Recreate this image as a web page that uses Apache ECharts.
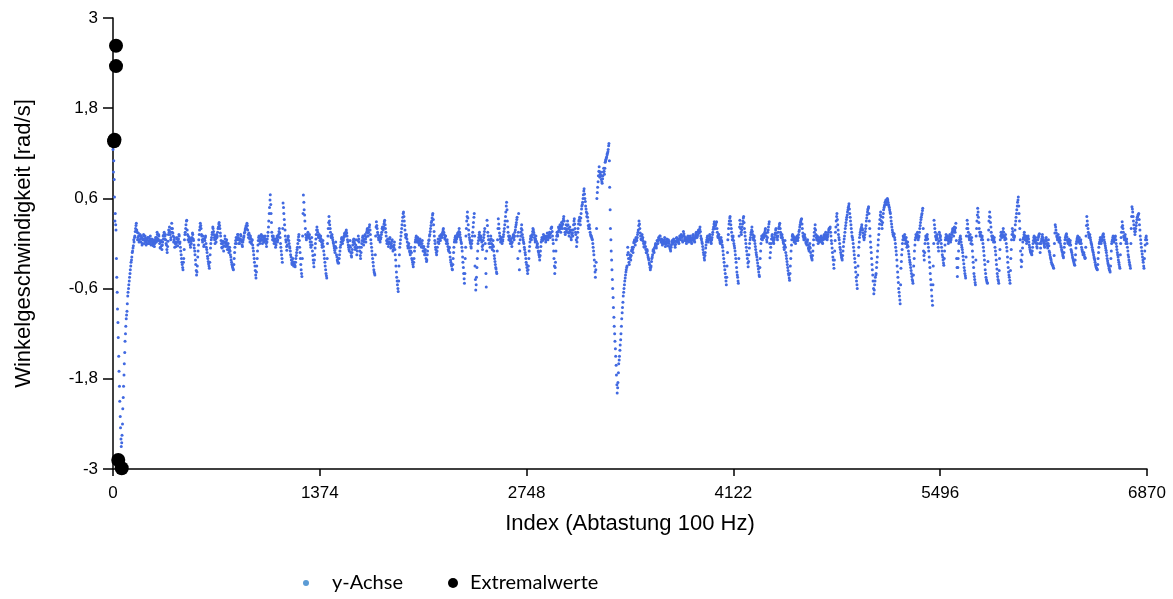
<!DOCTYPE html>
<html>
<head>
<meta charset="utf-8">
<script src="https://cdn.jsdelivr.net/npm/echarts@6/dist/echarts.min.js"></script>
<style>
html,body{margin:0;padding:0;background:#fff;}
#chart{width:1173px;height:599px;}
</style>
</head>
<body>
<div id="chart"></div>
<script>
// sampling step of the blue series (index units); s-arrays at index k*STEP, t-arrays at k*STEP+OFF
var STEP = 5, OFF = 3;
var s00 = [1.25,1.1,0.62,0.4,0.18,-0.45,-0.87,-1.25,-1.7,-2.1,
-2.45,-2.7,-2.55,-2.2,-1.9,-1.6,-1.3,-1.1,-0.95,-0.8,
-0.65,-0.55,-0.45,-0.35,-0.25,-0.18,-0.1,-0.03,0.02,0.1,
0.2,0.27,0.15,0.08,0.1,0.05,0.12,0.02,0.08,0.0,
0.06,0.1,0.04,0.07,-0.02,0.05,0.08,0.0,0.03,0.06,
0.02,0.04,-0.01,0.02,0.0,-0.04,0.02,0.05,0.08,0.12,
0.06,0.1,0.0,-0.05,0.04,-0.08,0.02,0.06,0.15,0.1,
0.05,-0.02,-0.12,0.03,0.18,0.22,0.12,0.08,0.27,0.2,
0.1,0.05,-0.05,0.02,0.0,0.08,-0.03,0.06,0.1,0.02,
-0.1,-0.2,-0.28,-0.35,-0.2,0.05,0.15,0.25,0.31,0.12];
var s01 = [0.1,0.02,0.06,-0.05,0.0,0.08,0.12,0.04,-0.06,-0.15,
-0.28,-0.42,-0.3,-0.1,0.05,0.18,0.27,0.2,0.1,0.02,
0.06,-0.02,0.04,0.1,-0.05,-0.12,-0.2,-0.27,-0.33,-0.15,
0.0,0.08,0.15,0.2,0.12,0.05,0.1,0.02,0.08,0.15,
0.22,0.28,0.2,0.1,0.0,-0.06,0.03,-0.1,0.02,0.06,
-0.04,0.05,-0.08,0.0,-0.12,-0.05,-0.15,-0.22,-0.28,-0.32,
-0.35,-0.2,-0.05,0.04,0.0,0.08,0.12,0.05,0.0,0.06,
0.1,0.02,-0.04,0.05,0.1,0.15,0.2,0.24,0.27,0.18,
0.08,0.12,0.02,0.07,0.0,0.05,-0.06,-0.15,-0.25,-0.36,
-0.46,-0.3,-0.1,0.04,0.1,0.0,0.06,0.12,0.05,0.1];
var s02 = [0.08,0.02,0.1,0.04,-0.04,0.06,0.15,0.3,0.48,0.65,
0.4,0.15,0.05,0.1,0.0,0.06,-0.05,0.03,0.1,0.05,
0.12,0.2,0.08,-0.05,-0.15,-0.25,0.54,0.4,0.25,0.1,
0.02,-0.09,0.05,0.1,0.0,-0.06,-0.15,-0.22,-0.28,-0.2,
-0.3,-0.25,-0.31,-0.2,-0.12,-0.05,0.05,0.12,-0.05,-0.2,
-0.35,-0.44,0.1,0.645,0.45,0.3,0.12,0.05,0.1,0.15,
0.08,0.12,0.02,-0.05,0.08,-0.1,-0.22,-0.31,-0.15,0.0,
0.12,0.22,0.15,0.08,0.12,0.04,0.1,0.02,-0.05,0.04,
-0.1,-0.2,-0.3,-0.4,-0.46,0.0,0.2,0.36,0.25,0.15,
0.08,0.12,0.05,0.0,-0.06,-0.12,0.02,-0.15,-0.22,-0.26];
var s03 = [-0.26,-0.15,-0.05,0.02,0.08,0.0,0.05,0.1,0.14,0.12,
0.18,0.1,0.02,-0.05,-0.1,0.04,-0.12,-0.18,-0.08,0.02,
0.06,0.0,-0.08,0.05,-0.15,-0.05,0.1,0.02,-0.1,-0.2,
-0.05,0.04,0.1,-0.02,0.06,0.12,0.02,0.15,0.2,0.1,
0.18,0.25,0.12,0.0,-0.1,-0.2,-0.3,-0.38,-0.42,0.1,
0.29,0.2,0.12,0.05,0.1,0.02,0.08,0.15,0.22,0.18,
0.26,0.31,0.2,0.1,0.0,0.06,-0.04,0.02,0.08,-0.06,
0.0,0.05,-0.1,-0.05,0.02,-0.15,-0.3,-0.45,-0.55,-0.64,
-0.3,-0.05,0.05,0.15,0.25,0.35,0.42,0.3,0.18,0.08,
0.12,0.02,-0.06,0.0,-0.1,-0.15,-0.05,-0.2,-0.25,-0.31];
var s04 = [-0.2,-0.05,0.05,0.1,0.02,0.08,0.05,-0.02,0.06,0.0,
-0.05,0.04,-0.1,-0.04,-0.15,-0.08,-0.2,-0.22,-0.1,0.0,
0.05,0.12,0.2,0.28,0.34,0.4,0.25,0.1,0.0,-0.08,
-0.15,-0.05,0.06,0.0,0.1,0.04,0.12,0.08,0.15,0.2,
0.12,0.06,0.1,0.0,0.05,-0.04,-0.1,-0.05,-0.18,-0.25,
-0.3,-0.35,-0.2,-0.05,0.05,0.1,0.02,0.08,0.14,0.1,
0.2,0.12,0.05,0.0,-0.1,-0.25,-0.4,-0.53,-0.2,0.1,
0.3,0.42,0.25,0.12,0.05,0.0,-0.06,0.04,0.15,0.28,
0.4,-0.3,-0.62,-0.45,-0.2,0.0,0.08,0.15,0.05,0.1,
0.02,-0.08,0.04,0.12,0.2,-0.2,-0.58,0.31,0.15,0.05];
var s05 = [0.05,-0.05,0.1,0.0,-0.08,0.04,-0.1,-0.2,-0.28,-0.34,
-0.4,0.05,0.33,0.2,0.1,0.02,0.08,0.0,0.05,0.12,
0.2,0.3,0.42,0.55,0.3,0.15,0.05,0.1,0.0,0.06,
-0.04,0.08,0.12,0.05,0.15,0.22,0.28,0.35,-0.2,0.4,
-0.35,0.05,0.15,0.25,0.12,0.05,0.0,-0.08,-0.15,-0.25,
-0.32,-0.4,-0.3,-0.1,0.02,0.1,0.05,0.12,0.2,0.15,
0.08,0.02,0.1,-0.05,0.0,-0.1,-0.15,-0.22,-0.1,0.02,
0.08,0.04,0.12,0.06,0.1,0.02,0.08,0.14,0.05,0.1,
0.15,0.08,0.2,0.22,0.1,0.0,-0.2,-0.4,-0.25,0.05,
0.15,0.1,0.22,0.18,0.25,0.15,0.28,0.2,0.3,0.36];
var s06 = [0.2,0.12,0.25,0.15,0.3,0.2,0.1,0.22,0.15,0.05,
0.18,0.1,0.25,0.33,0.2,0.12,-0.04,0.08,0.2,0.3,
0.35,0.25,0.4,0.5,0.55,0.65,0.73,0.6,0.5,0.42,
0.4,0.3,0.2,0.25,0.15,0.1,0.08,0.05,-0.05,-0.15,
-0.3,-0.45,-0.25,0.6,0.75,0.9,1.02,0.88,0.95,0.85,
0.8,0.9,1.0,0.92,1.08,1.12,1.15,1.2,1.25,1.33,
0.75,0.2,-0.1,-0.35,-0.6,-0.85,-1.1,-1.3,-1.5,-1.75,
-1.99,-1.85,-1.6,-1.5,-1.35,-1.2,-1.0,-0.85,-0.7,-0.6,
-0.5,-0.42,-0.35,-0.3,-0.05,-0.2,-0.28,-0.15,-0.22,-0.1,
-0.05,-0.12,0.01,0.05,-0.02,0.08,0.04,0.12,0.18,0.3];
var s07 = [0.2,0.1,0.05,0.12,0.08,0.0,-0.05,0.02,-0.08,-0.12,
-0.1,-0.18,-0.22,-0.28,-0.35,-0.3,-0.2,-0.15,-0.08,-0.12,
-0.05,0.0,-0.06,0.04,0.0,0.08,0.05,0.1,0.02,0.06,
-0.02,0.04,0.0,0.08,-0.04,0.02,0.06,-0.03,0.05,0.0,
-0.06,-0.1,-0.02,0.04,0.0,0.06,0.02,-0.05,0.03,0.08,
0.02,0.06,0.0,0.1,0.05,0.12,0.08,0.02,0.16,0.1,
0.04,0.08,0.0,0.05,0.1,0.02,0.06,0.1,0.04,0.0,
0.08,0.12,0.05,0.02,0.1,0.15,0.08,0.12,0.18,0.14,
0.22,0.1,0.05,0.0,-0.08,-0.15,-0.22,-0.12,-0.02,0.05,
0.1,0.02,0.06,0.12,0.05,0.0,0.08,0.15,0.22,0.29];
var s08 = [0.2,0.25,0.29,0.15,0.08,0.12,0.05,0.0,0.08,0.02,
-0.05,-0.15,-0.25,-0.35,-0.45,-0.55,-0.3,0.05,0.2,0.3,
0.36,0.25,0.15,0.05,0.1,0.0,-0.06,-0.15,-0.25,-0.38,
-0.45,-0.53,0.1,0.31,0.2,0.12,0.22,0.3,0.36,0.2,
0.1,0.0,-0.1,-0.2,-0.31,-0.15,0.0,0.08,0.15,0.22,
0.12,0.05,0.1,0.0,-0.08,-0.15,-0.22,-0.3,-0.38,-0.44,
-0.2,0.0,0.1,0.05,0.12,0.08,0.15,0.2,0.1,0.02,
0.15,0.22,0.29,-0.19,-0.05,0.06,0.12,0.05,0.0,0.08,
0.14,0.2,0.1,0.05,0.15,0.22,0.27,0.15,0.08,0.12,
0.05,0.0,-0.08,0.04,-0.12,-0.2,-0.28,-0.36,-0.42,-0.49];
var s09 = [-0.3,-0.1,0.05,0.12,0.1,0.02,0.08,0.0,0.05,0.1,
0.04,0.12,0.18,0.25,0.3,0.33,0.2,0.1,0.05,0.12,
0.06,0.0,-0.02,0.05,-0.06,-0.1,0.0,-0.12,-0.18,-0.22,
-0.1,0.05,0.15,0.25,0.12,0.05,0.1,0.0,0.08,0.02,
0.05,0.1,0.04,0.0,0.08,0.12,0.06,0.15,0.1,0.05,
0.12,0.18,0.2,0.22,0.1,0.0,-0.12,-0.22,-0.33,-0.1,
0.15,0.3,0.4,0.25,0.12,0.05,-0.05,-0.12,-0.18,-0.22,
-0.1,0.02,0.1,0.2,0.28,0.35,0.42,0.48,0.53,0.4,
0.3,0.2,0.1,0.05,-0.05,-0.15,-0.25,-0.38,-0.5,-0.6,
-0.3,-0.05,0.08,0.15,0.2,0.25,0.18,0.1,0.05,0.12];
var s10 = [0.2,0.3,0.38,0.45,0.49,0.3,0.1,-0.05,-0.2,-0.35,
-0.5,-0.67,-0.55,-0.45,-0.4,-0.25,-0.1,0.05,0.2,0.32,
0.42,0.3,0.2,0.35,0.45,0.5,0.55,0.58,0.52,0.6,
0.55,0.5,0.45,0.4,0.3,0.22,0.15,0.1,0.13,0.05,
-0.05,-0.15,-0.3,-0.45,-0.6,-0.7,-0.8,-0.33,-0.15,0.0,
0.1,0.05,0.12,0.0,0.08,-0.05,0.02,-0.1,-0.18,-0.25,
-0.32,-0.4,-0.48,-0.53,-0.3,-0.1,0.05,0.12,0.08,0.15,
0.05,0.1,0.2,0.28,0.35,0.4,0.47,-0.1,-0.22,0.0,
0.1,0.05,0.12,0.0,-0.1,-0.25,-0.4,-0.55,-0.7,-0.82,
-0.3,0.31,0.2,0.1,0.05,0.12,0.0,-0.1,0.15,0.08];
var s11 = [0.05,-0.05,-0.15,-0.22,-0.29,-0.1,0.05,0.12,0.05,0.1,
0.0,0.06,0.12,0.02,0.08,0.15,0.2,0.1,0.22,0.15,
0.27,-0.2,-0.44,-0.2,0.0,0.05,0.1,0.02,-0.05,-0.12,
-0.22,-0.32,-0.4,-0.46,0.1,0.31,0.2,0.1,0.05,0.12,
0.0,0.08,-0.1,-0.25,-0.4,-0.48,-0.55,0.1,0.3,0.47,
0.35,0.2,0.1,0.15,0.05,0.1,0.0,-0.1,-0.22,-0.35,
-0.45,-0.5,-0.53,0.05,0.3,0.42,0.28,0.15,0.05,0.1,
0.02,0.08,-0.05,-0.15,-0.28,-0.4,-0.48,-0.53,-0.2,0.05,
0.15,0.08,0.12,0.2,0.1,0.05,0.12,0.0,-0.1,-0.25,
-0.38,-0.45,-0.53,-0.2,0.05,0.2,0.12,0.05,0.1,0.25];
var s12 = [0.35,0.45,0.55,0.62,0.4,0.2,-0.1,-0.31,-0.15,0.02,
0.08,0.15,0.05,0.1,0.0,0.06,0.1,0.02,-0.05,-0.1,
-0.12,-0.15,-0.05,0.04,0.1,0.02,0.08,0.0,-0.06,0.05,
0.1,0.13,-0.12,0.0,0.06,0.12,0.05,0.0,-0.05,0.04,
0.08,0.0,-0.06,0.05,-0.1,-0.15,-0.2,-0.25,-0.28,-0.3,
-0.33,0.0,0.25,0.18,0.1,0.05,0.12,0.02,0.08,0.0,
-0.05,-0.1,-0.15,-0.19,-0.05,0.05,0.1,0.13,0.05,0.0,
0.06,-0.02,0.04,-0.08,-0.12,-0.18,-0.22,-0.26,-0.29,-0.15,
0.0,0.06,0.1,0.02,0.08,0.0,0.05,-0.05,-0.1,-0.15,
-0.12,-0.18,-0.19,0.1,0.36,0.25,0.15,0.08,0.12,0.05];
var s13 = [0.0,-0.05,-0.1,-0.15,-0.2,-0.25,-0.3,-0.33,-0.35,-0.2,
-0.05,0.02,0.08,0.0,0.05,0.1,0.13,0.05,0.0,-0.06,
-0.12,-0.2,-0.26,-0.3,-0.35,-0.38,-0.2,0.0,0.05,0.1,
0.02,0.08,0.1,0.0,-0.08,-0.15,-0.22,-0.28,-0.33,0.0,
0.15,0.29,0.2,0.1,0.05,0.12,0.0,0.06,-0.05,-0.15,
-0.22,-0.28,-0.33,0.2,0.49,0.42,0.3,0.2,0.12,0.2,
0.28,0.35,0.38,0.4,0.25,0.1,0.0,-0.1,-0.18,-0.25,
-0.33,-0.1,0.05,0.1,0.0];

var t00 = [0.95,0.85,0.3,0.25,-0.2,-0.65,-1.05,-1.5,-1.9,-2.3,
-2.6,-2.65,-2.4,-2.05,-1.75,-1.45,-1.2,-1.0,-0.9,-0.7,
-0.6,-0.5,-0.4,-0.3,-0.22,-0.12,-0.06,0.05,0.08,0.16,
0.24,0.18,0.05,0.14,0.02,0.1,0.06,0.1,-0.02,0.05,
0.12,0.0,0.1,0.02,0.06,0.0,0.04,0.08,0.0,0.1,
-0.02,0.06,0.03,-0.03,0.05,0.0,0.08,0.02,0.15,0.04,
0.12,0.04,-0.06,0.02,-0.03,-0.02,0.1,0.12,0.06,0.12,
0.0,-0.08,-0.04,0.12,0.15,0.16,0.05,0.2,0.15,0.14,
0.02,0.08,0.0,-0.04,0.06,0.02,0.03,0.12,0.0,-0.05,
-0.15,-0.25,-0.32,-0.25,-0.08,0.12,0.2,0.3,0.18,0.05];
var t01 = [0.05,0.08,-0.02,0.03,0.06,0.14,0.06,-0.02,-0.1,-0.22,
-0.36,-0.38,-0.18,-0.02,0.12,0.22,0.24,0.12,0.05,0.1,
-0.04,0.06,0.08,0.0,-0.08,-0.17,-0.24,-0.3,-0.25,-0.06,
0.05,0.12,0.22,0.16,0.08,0.0,0.06,0.12,0.1,0.2,
0.26,0.24,0.14,0.04,-0.05,0.0,-0.04,-0.03,0.1,0.0,
0.02,-0.02,-0.04,-0.08,-0.08,-0.1,-0.18,-0.25,-0.3,-0.34,
-0.28,-0.12,0.0,0.08,0.05,0.12,0.08,0.0,0.04,0.12,
0.05,-0.02,0.02,0.08,0.14,0.18,0.22,0.2,0.24,0.12,
0.14,0.06,0.1,0.02,0.04,-0.02,-0.1,-0.2,-0.3,-0.42,
-0.38,-0.2,-0.02,0.08,0.04,0.03,0.1,0.08,0.0,0.04];
var t02 = [0.04,0.07,0.05,0.0,0.02,0.1,0.22,0.4,0.58,0.52,
0.28,0.1,0.08,0.04,0.03,0.0,-0.02,0.07,0.02,0.09,
0.16,0.14,0.0,-0.1,-0.2,0.2,0.48,0.32,0.18,0.05,
-0.04,-0.02,0.08,0.04,-0.04,-0.1,-0.18,-0.26,-0.24,-0.26,
-0.28,-0.29,-0.25,-0.16,-0.08,0.0,0.09,0.04,-0.12,-0.28,
-0.4,-0.2,0.4,0.55,0.38,0.2,0.08,0.08,0.12,0.1,
0.1,0.06,-0.02,0.02,-0.02,-0.16,-0.26,-0.22,-0.06,0.06,
0.18,0.18,0.11,0.1,0.08,0.07,0.06,-0.02,0.0,-0.04,
-0.15,-0.25,-0.35,-0.43,-0.2,0.1,0.28,0.3,0.2,0.1,
0.1,0.08,0.02,-0.03,-0.09,-0.04,-0.06,-0.18,-0.24,-0.2];
var t03 = [-0.2,-0.1,-0.02,0.06,0.03,0.04,0.08,0.13,0.1,0.16,
0.14,0.05,-0.02,-0.08,-0.03,-0.05,-0.16,-0.12,-0.02,0.05,
0.02,-0.05,-0.02,-0.06,-0.1,0.04,0.06,-0.05,-0.16,-0.12,
0.0,0.08,0.04,0.02,0.1,0.06,0.09,0.18,0.14,0.15,
0.22,0.18,0.05,-0.05,-0.15,-0.25,-0.35,-0.4,-0.15,0.22,
0.24,0.15,0.08,0.08,0.05,0.06,0.12,0.2,0.2,0.22,
0.29,0.25,0.15,0.04,0.03,0.0,0.0,0.06,0.0,-0.03,
0.03,-0.04,-0.08,-0.02,-0.08,-0.22,-0.38,-0.5,-0.6,-0.5,
-0.15,0.0,0.1,0.2,0.3,0.4,0.36,0.24,0.12,0.1,
0.06,-0.03,-0.03,-0.06,-0.12,-0.1,-0.12,-0.22,-0.28,-0.25];
var t04 = [-0.1,0.02,0.08,0.04,0.06,0.02,0.0,0.03,0.02,-0.04,
0.0,-0.04,-0.06,-0.1,-0.12,-0.15,-0.24,-0.15,-0.04,0.04,
0.1,0.16,0.24,0.3,0.38,0.32,0.16,0.04,-0.05,-0.12,
-0.1,0.02,0.02,0.06,0.06,0.09,0.1,0.12,0.18,0.15,
0.08,0.1,0.04,0.03,0.0,-0.08,-0.06,-0.12,-0.22,-0.28,
-0.34,-0.28,-0.12,0.02,0.08,0.05,0.06,0.12,0.1,0.16,
0.15,0.08,0.02,-0.05,-0.18,-0.32,-0.47,-0.4,-0.05,0.2,
0.36,0.34,0.18,0.08,0.02,-0.04,0.0,0.1,0.22,0.35,
0.1,-0.48,-0.55,-0.32,-0.1,0.04,0.12,0.1,0.08,0.05,
-0.04,-0.02,0.08,0.16,0.0,-0.4,-0.1,0.24,0.1,0.0];
var t05 = [0.0,0.04,0.06,-0.05,-0.02,-0.04,-0.16,-0.24,-0.32,-0.38,
-0.1,0.2,0.26,0.14,0.06,0.05,0.04,0.03,0.09,0.16,
0.25,0.36,0.5,0.45,0.22,0.1,0.08,0.04,0.03,0.0,
0.02,0.1,0.08,0.1,0.18,0.25,0.32,0.1,0.15,0.0,
-0.1,0.1,0.2,0.18,0.08,0.02,-0.05,-0.12,-0.2,-0.28,
-0.36,-0.35,-0.2,-0.04,0.06,0.08,0.09,0.16,0.18,0.12,
0.05,0.06,0.03,-0.02,-0.05,-0.12,-0.18,-0.16,-0.04,0.05,
0.06,0.08,0.09,0.08,0.06,0.05,0.1,0.1,0.08,0.12,
0.12,0.14,0.21,0.16,0.05,-0.1,-0.3,-0.32,-0.1,0.1,
0.12,0.16,0.2,0.22,0.2,0.22,0.24,0.26,0.33,0.3];
var t06 = [0.15,0.2,0.18,0.24,0.25,0.14,0.16,0.18,0.08,0.12,
0.14,0.18,0.3,0.26,0.15,0.05,0.02,0.15,0.26,0.32,
0.3,0.34,0.46,0.52,0.6,0.7,0.66,0.56,0.46,0.36,
0.35,0.24,0.22,0.2,0.12,0.1,0.06,0.0,-0.1,-0.22,
-0.38,-0.35,0.2,0.68,0.82,0.96,0.95,0.92,0.9,0.82,
0.86,0.95,0.96,1.0,1.1,1.14,1.18,1.22,1.3,1.1,
0.45,0.05,-0.22,-0.48,-0.72,-0.98,-1.2,-1.4,-1.62,-1.88,
-1.92,-1.72,-1.55,-1.42,-1.28,-1.1,-0.92,-0.78,-0.65,-0.55,
-0.46,-0.38,-0.32,-0.15,-0.12,-0.25,-0.2,-0.18,-0.16,-0.08,
-0.08,-0.05,0.03,0.02,0.03,0.06,0.08,0.15,0.24,0.26];
var t07 = [0.14,0.06,0.1,0.06,0.03,-0.04,0.0,-0.04,-0.12,-0.08,
-0.15,-0.2,-0.26,-0.32,-0.32,-0.24,-0.18,-0.1,-0.1,-0.06,
-0.02,-0.04,-0.01,0.03,0.05,0.06,0.1,0.05,0.04,0.01,
0.02,0.01,0.05,0.02,-0.01,0.05,0.01,0.02,0.03,-0.04,
-0.08,-0.05,0.02,0.01,0.04,0.03,-0.02,-0.01,0.07,0.04,
0.05,0.02,0.06,0.08,0.09,0.1,0.04,0.1,0.13,0.06,
0.07,0.03,0.03,0.08,0.05,0.05,0.09,0.06,0.02,0.05,
0.11,0.08,0.03,0.07,0.13,0.1,0.1,0.16,0.15,0.19,
0.16,0.07,0.02,-0.04,-0.12,-0.19,-0.16,-0.06,0.02,0.08,
0.05,0.05,0.1,0.08,0.02,0.05,0.12,0.19,0.26,0.24];
var t08 = [0.24,0.28,0.2,0.1,0.12,0.08,0.02,0.05,0.04,-0.02,
-0.1,-0.2,-0.3,-0.4,-0.5,-0.45,-0.12,0.12,0.26,0.34,
0.3,0.2,0.1,0.08,0.04,-0.03,-0.1,-0.2,-0.32,-0.42,
-0.5,-0.2,0.22,0.26,0.15,0.18,0.26,0.34,0.28,0.15,
0.05,-0.05,-0.15,-0.26,-0.24,-0.06,0.05,0.12,0.18,0.16,
0.08,0.08,0.04,-0.04,-0.12,-0.18,-0.26,-0.34,-0.42,-0.32,
-0.1,0.06,0.08,0.09,0.1,0.12,0.18,0.14,0.05,0.08,
0.18,0.26,0.0,-0.12,0.0,0.1,0.08,0.02,0.05,0.12,
0.18,0.14,0.08,0.1,0.2,0.25,0.2,0.12,0.1,0.08,
0.02,-0.05,-0.02,-0.05,-0.16,-0.24,-0.32,-0.4,-0.46,-0.4];
var t09 = [-0.2,-0.02,0.1,0.08,0.05,0.06,0.03,0.04,0.08,0.06,
0.08,0.16,0.22,0.28,0.32,0.26,0.14,0.08,0.1,0.08,
0.02,0.03,0.02,-0.02,-0.08,-0.04,-0.06,-0.16,-0.2,-0.16,
-0.02,0.1,0.2,0.18,0.08,0.08,0.04,0.05,0.04,0.04,
0.08,0.06,0.01,0.05,0.1,0.08,0.11,0.12,0.07,0.09,
0.15,0.2,0.2,0.15,0.04,-0.06,-0.18,-0.28,-0.22,0.04,
0.22,0.36,0.32,0.18,0.08,0.0,-0.08,-0.15,-0.2,-0.16,
-0.04,0.06,0.15,0.24,0.32,0.38,0.45,0.5,0.46,0.35,
0.25,0.15,0.08,0.0,-0.1,-0.2,-0.32,-0.45,-0.55,-0.42,
-0.16,0.02,0.12,0.18,0.22,0.2,0.14,0.08,0.08,0.16];
var t10 = [0.24,0.34,0.42,0.47,0.4,0.2,0.02,-0.12,-0.28,-0.42,
-0.6,-0.62,-0.5,-0.42,-0.32,-0.18,-0.02,0.12,0.26,0.38,
0.36,0.25,0.28,0.4,0.48,0.52,0.56,0.55,0.57,0.58,
0.52,0.48,0.42,0.35,0.26,0.18,0.12,0.12,0.08,0.0,
-0.1,-0.22,-0.38,-0.52,-0.65,-0.75,-0.55,-0.24,-0.08,0.05,
0.08,0.09,0.06,0.04,0.01,-0.02,-0.04,-0.14,-0.22,-0.28,
-0.36,-0.44,-0.5,-0.42,-0.2,-0.02,0.08,0.1,0.12,0.1,
0.08,0.15,0.24,0.32,0.38,0.44,0.2,-0.16,-0.12,0.05,
0.08,0.09,0.06,-0.05,-0.18,-0.32,-0.48,-0.62,-0.76,-0.55,
0.0,0.25,0.15,0.08,0.09,0.06,-0.05,0.03,0.12,0.1];
var t11 = [0.0,-0.1,-0.18,-0.26,-0.2,-0.02,0.08,0.08,0.08,0.05,
0.03,0.09,0.07,0.05,0.12,0.18,0.15,0.16,0.18,0.21,
0.04,-0.32,-0.32,-0.1,0.02,0.08,0.06,-0.02,-0.08,-0.17,
-0.27,-0.36,-0.43,-0.18,0.2,0.26,0.15,0.08,0.08,0.06,
0.04,-0.01,-0.18,-0.32,-0.44,-0.52,-0.22,0.2,0.38,0.42,
0.28,0.15,0.12,0.1,0.08,0.05,-0.05,-0.16,-0.28,-0.4,
-0.48,-0.52,-0.24,0.18,0.36,0.35,0.22,0.1,0.08,0.06,
0.05,0.02,-0.1,-0.22,-0.34,-0.44,-0.5,-0.36,-0.08,0.1,
0.12,0.1,0.16,0.15,0.08,0.08,0.06,-0.05,-0.18,-0.32,
-0.42,-0.49,-0.36,-0.08,0.12,0.16,0.09,0.08,0.18,0.3];
var t12 = [0.4,0.5,0.58,0.5,0.3,0.05,-0.22,-0.24,-0.06,0.06,
0.12,0.1,0.08,0.04,0.03,0.08,0.06,-0.02,-0.08,-0.12,
-0.14,-0.1,0.0,0.08,0.06,0.05,0.04,-0.04,0.0,0.08,
0.12,0.0,-0.06,0.03,0.09,0.08,0.02,-0.03,0.0,0.06,
0.04,-0.03,0.0,-0.03,-0.12,-0.18,-0.22,-0.27,-0.29,-0.32,
-0.16,0.14,0.22,0.14,0.08,0.08,0.07,0.05,0.04,-0.03,
-0.08,-0.12,-0.17,-0.12,0.0,0.08,0.12,0.09,0.02,0.03,
0.02,0.01,-0.02,-0.1,-0.15,-0.2,-0.24,-0.28,-0.22,-0.06,
0.03,0.08,0.06,0.05,0.04,0.03,0.0,-0.08,-0.12,-0.14,
-0.15,-0.2,-0.05,0.24,0.3,0.2,0.12,0.1,0.08,0.02];
var t13 = [-0.02,-0.08,-0.12,-0.18,-0.22,-0.28,-0.32,-0.34,-0.28,-0.12,
0.0,0.05,0.04,0.03,0.08,0.12,0.09,0.02,-0.03,-0.09,
-0.16,-0.23,-0.28,-0.33,-0.36,-0.3,-0.1,0.03,0.08,0.06,
0.05,0.09,0.05,-0.04,-0.12,-0.18,-0.25,-0.31,-0.15,0.08,
0.22,0.24,0.15,0.08,0.09,0.06,0.03,0.0,-0.1,-0.18,
-0.25,-0.3,0.0,0.36,0.46,0.36,0.25,0.16,0.16,0.24,
0.32,0.36,0.39,0.32,0.18,0.05,-0.05,-0.14,-0.22,-0.3,
-0.2,-0.02,0.08,0.05];

// Extremalwerte: index and value
var extremIdx = [7, 10, 20, 20, 35, 58];
var extremVal = [1.36, 1.38, 2.63, 2.36, -2.88, -2.99];

// axis settings
var xMax = 6870, xTick = 1374;
var yMin = -3, yMax = 3, yTick = 1.2;

function build(list, off) {
  var out = [], k = 0;
  list.forEach(function (s) { s.forEach(function (v) { out.push([k * STEP + off, v]); k++; }); });
  return out;
}
var ySeries = build([s00,s01,s02,s03,s04,s05,s06,s07,s08,s09,s10,s11,s12,s13], 0)
  .concat(build([t00,t01,t02,t03,t04,t05,t06,t07,t08,t09,t10,t11,t12,t13], OFF));
var extrem = extremIdx.map(function (x, i) { return [x, extremVal[i]]; });

var FONT = "'Liberation Sans', Arial, sans-serif";
var LFONT = "Lato, 'Open Sans', sans-serif";
var chart = echarts.init(document.getElementById('chart'), null, {renderer: 'canvas'});
chart.setOption({
  animation: false,
  backgroundColor: '#fff',
  grid: {left: 113, right: 26, top: 18, bottom: 130, containLabel: false},
  xAxis: {
    type: 'value', min: 0, max: xMax, interval: xTick,
    name: 'Index (Abtastung 100 Hz)', nameLocation: 'middle', nameGap: 44,
    nameTextStyle: {fontFamily: FONT, fontSize: 22, color: '#000'},
    axisLine: {show: true, onZero: false, lineStyle: {color: '#000', width: 1.5}},
    axisTick: {show: true, length: 7, lineStyle: {color: '#000', width: 1.5}},
    axisLabel: {fontFamily: FONT, fontSize: 17, color: '#000', margin: 16, showMinLabel: true, showMaxLabel: true,
      formatter: function (v) { return String(v); }},
    splitLine: {show: false}
  },
  yAxis: {
    type: 'value', min: yMin, max: yMax, interval: yTick,
    name: 'Winkelgeschwindigkeit [rad/s]', nameLocation: 'middle', nameGap: 78,
    nameTextStyle: {fontFamily: FONT, fontSize: 22, color: '#000'},
    axisLine: {show: true, onZero: false, lineStyle: {color: '#000', width: 1.5}},
    axisTick: {show: true, length: 10, lineStyle: {color: '#000', width: 1.5}},
    axisLabel: {fontFamily: FONT, fontSize: 17, color: '#000', margin: 15,
      formatter: function (v) { return String(Math.round(v * 10) / 10).replace('.', ','); }},
    splitLine: {show: false}
  },
  legend: [
    {data: [{name: 'y-Achse', itemStyle: {color: '#5b9bd5', opacity: 1}}], left: 303, top: 573, padding: 0, icon: 'circle',
     itemWidth: 6, itemHeight: 6, textStyle: {fontFamily: LFONT, fontSize: 20, color: '#000', padding: [0, 0, 0, 18]}},
    {data: [{name: 'Extremalwerte', itemStyle: {color: '#000', opacity: 1}}], left: 448, top: 573, padding: 0, icon: 'circle',
     itemWidth: 10, itemHeight: 10, textStyle: {fontFamily: LFONT, fontSize: 20, color: '#000', padding: [0, 0, 0, 7]}}
  ],
  series: [
    {name: 'y-Achse', type: 'scatter', data: ySeries, symbol: 'circle', symbolSize: 3,
     itemStyle: {color: '#4169e1', opacity: 1}, z: 2, large: false},
    {name: 'Extremalwerte', type: 'scatter', data: extrem, symbol: 'circle', symbolSize: 14,
     itemStyle: {color: '#000', opacity: 1}, z: 3}
  ]
});
</script>
</body>
</html>
